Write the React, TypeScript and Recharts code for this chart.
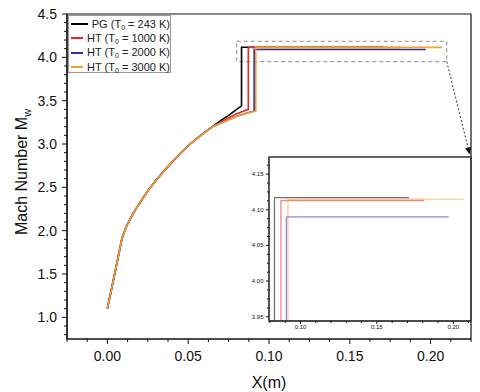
import { Line, LineChart, ReferenceArea, ReferenceLine, XAxis, YAxis } from "recharts";

const FONT = "'Liberation Sans', Arial, sans-serif";

// shared rise, all four cases sit on top of each other here
const riseX = [0, 0.0045, 0.009, 0.012, 0.016, 0.02, 0.025, 0.03, 0.035, 0.04, 0.045, 0.05, 0.055, 0.06, 0.065];
const riseM = [1.1, 1.5, 1.91, 2.06, 2.2, 2.32, 2.46, 2.58, 2.69, 2.79, 2.89, 2.98, 3.06, 3.13, 3.2];

// tails: end of the curve, jump, plateau
const pgX = [0.07, 0.075, 0.08, 0.083, 0.083, 0.171];
const pgM = [3.27, 3.33, 3.4, 3.44, 4.117, 4.117];
const ht1000X = [0.07, 0.075, 0.08, 0.0872, 0.0872, 0.181];
const ht1000M = [3.25, 3.3, 3.35, 3.4, 4.113, 4.113];
const ht2000X = [0.07, 0.075, 0.08, 0.085, 0.0908, 0.0908, 0.197];
const ht2000M = [3.24, 3.28, 3.32, 3.35, 3.38, 4.09, 4.09];
const ht3000X = [0.07, 0.075, 0.08, 0.085, 0.0918, 0.0918, 0.207];
const ht3000M = [3.24, 3.28, 3.32, 3.35, 3.38, 4.115, 4.115];

const seriesNames = ["PG", "HT", "HT", "HT"];
const seriesT0 = ["243", "1000", "2000", "3000"];
const seriesColors = ["#000000", "#e3262b", "#2b30b0", "#f5a02a"];

// axes
const xDomain = [-0.025, 0.225];
const yDomain = [0.75, 4.5];
const xMajor = [0, 0.05, 0.1, 0.15, 0.2];
const yMajor = [1, 1.5, 2, 2.5, 3, 3.5, 4, 4.5];
const insetXDomain = [0.0794, 0.2116];
const insetYDomain = [3.944, 4.174];
const insetXMajor = [0.1, 0.15, 0.2];
const insetYMajor = [3.95, 4, 4.05, 4.1, 4.15];

// zoom box shown in the inset
const zoomX = [0.08, 0.21];
const zoomM = [3.95, 4.185];

const toPoints = (xs: number[], ms: number[]) => xs.map((x, i) => ({ x, m: ms[i] }));
const withRise = (xs: number[], ms: number[]) => toPoints([...riseX, ...xs], [...riseM, ...ms]);

const series = [
  withRise(pgX, pgM),
  withRise(ht1000X, ht1000M),
  withRise(ht2000X, ht2000M),
  withRise(ht3000X, ht3000M),
];

function steps(from: number, to: number, step: number) {
  const out: number[] = [];
  for (let v = from; v <= to + 1e-9; v += step) out.push(+v.toFixed(5));
  return out;
}

const isMajor = (v: number, majors: number[]) => majors.some((m) => Math.abs(m - v) < 1e-6);

function bottomTick(majors: number[], digits: number, fs: number, len: number, minor: number, base: number) {
  return (p: any) => {
    const v = p.payload.value;
    const major = isMajor(v, majors);
    return (
      <g>
        <line x1={p.x} x2={p.x} y1={p.y} y2={p.y + (major ? len : minor)} stroke="#111" />
        {major && (
          <text x={p.x} y={p.y + base} textAnchor="middle" fontSize={fs} fontFamily={FONT} fill="#111">
            {v.toFixed(digits)}
          </text>
        )}
      </g>
    );
  };
}

function leftTick(majors: number[], digits: number, fs: number, len: number, minor: number, gap: number, dy: number) {
  return (p: any) => {
    const v = p.payload.value;
    const major = isMajor(v, majors);
    return (
      <g>
        <line x1={p.x} x2={p.x - (major ? len : minor)} y1={p.y} y2={p.y} stroke="#111" />
        {major && (
          <text x={p.x - gap} y={p.y + dy} textAnchor="end" fontSize={fs} fontFamily={FONT} fill="#111">
            {v.toFixed(digits)}
          </text>
        )}
      </g>
    );
  };
}

function Arrow(p: any) {
  const { x1, y1, x2, y2 } = p;
  const a = Math.atan2(y2 - y1, x2 - x1);
  const s = 7;
  const pts = [
    [x2, y2],
    [x2 - s * Math.cos(a) + 3 * Math.sin(a), y2 - s * Math.sin(a) - 3 * Math.cos(a)],
    [x2 - s * Math.cos(a) - 3 * Math.sin(a), y2 - s * Math.sin(a) + 3 * Math.cos(a)],
  ];
  return (
    <g>
      <line x1={x1} y1={y1} x2={x2} y2={y2} stroke="#333" strokeDasharray="2 2" />
      <polygon points={pts.map((q) => q.join(",")).join(" ")} fill="#111" />
    </g>
  );
}

function Legend() {
  return (
    <div
      style={{
        position: "absolute",
        left: 68,
        top: 15,
        width: 103,
        height: 58,
        border: "1px solid #999",
        background: "#fff",
        fontFamily: FONT,
        fontSize: 11,
        color: "#222",
        boxSizing: "border-box",
        paddingTop: 1,
      }}
    >
      {seriesNames.map((n, i) => (
        <div key={i} style={{ display: "flex", alignItems: "center", height: 14.3 }}>
          <span style={{ display: "inline-block", width: 22, height: 2, background: seriesColors[i], marginLeft: 2, marginRight: 4 }} />
          <span style={{ whiteSpace: "nowrap" }}>
            {n} (T<sub style={{ fontSize: 7, verticalAlign: -2 }}>0</sub> = {seriesT0[i]} K)
          </span>
        </div>
      ))}
    </div>
  );
}

export default function App() {
  return (
    <div style={{ position: "absolute", left: 0, top: 0, width: 480, height: 392, background: "#fff" }}>
      <LineChart width={480} height={392} margin={{ top: 14, right: 9, bottom: 23, left: 0 }}>
        <XAxis
          type="number"
          dataKey="x"
          domain={xDomain}
          ticks={steps(-0.025, 0.225, 0.0125)}
          interval={0}
          height={30}
          tickSize={0}
          tickMargin={0}
          tickLine={false}
          axisLine={{ stroke: "#111", strokeWidth: 1.2 }}
          tick={bottomTick(xMajor, 2, 14, 5, 3, 22)}
          label={{
            content: (p: any) => (
              <text x={p.viewBox.x + p.viewBox.width / 2} y={388} textAnchor="middle" fontSize={16} fontFamily={FONT} fill="#111">
                X(m)
              </text>
            ),
          }}
        />
        <YAxis
          type="number"
          dataKey="m"
          domain={yDomain}
          ticks={steps(0.8, 4.5, 0.1)}
          interval={0}
          width={67}
          tickSize={0}
          tickMargin={0}
          tickLine={false}
          axisLine={{ stroke: "#111", strokeWidth: 1.2 }}
          tick={leftTick(yMajor, 1, 14, 5, 3, 10, 5)}
          label={{
            content: () => (
              <text x={27} y={172} transform="rotate(-90 27 172)" textAnchor="middle" fontSize={16} fontFamily={FONT} fill="#111">
                Mach Number M
                <tspan fontSize={11} dy={4}>
                  w
                </tspan>
              </text>
            ),
          }}
        />
        {/* plot frame */}
        <ReferenceArea x1={xDomain[0]} x2={xDomain[1]} y1={yDomain[0]} y2={yDomain[1]} fill="none" stroke="#111" strokeWidth={1.2} ifOverflow="visible" />
        <ReferenceArea x1={zoomX[0]} x2={zoomX[1]} y1={zoomM[0]} y2={zoomM[1]} fill="none" stroke="#8a8a8a" strokeDasharray="4 3" />
        <ReferenceLine
          segment={[
            { x: zoomX[1], y: zoomM[0] },
            { x: 0.2242, y: 2.88 },
          ]}
          ifOverflow="visible"
          shape={Arrow}
        />
        {series.map((d, i) => (
          <Line
            key={i}
            data={d}
            dataKey="m"
            type="linear"
            stroke={seriesColors[i]}
            strokeWidth={1.6}
            dot={false}
            isAnimationActive={false}
          />
        ))}
      </LineChart>

      <Legend />

      <div style={{ position: "absolute", left: 240, top: 150 }}>
        <LineChart width={240} height={190} margin={{ top: 7, right: 9, bottom: 0, left: 0 }}>
          <XAxis
            type="number"
            dataKey="x"
            domain={insetXDomain}
            allowDataOverflow
            ticks={steps(0.08, 0.21, 0.01)}
            interval={0}
            height={19}
            tickSize={0}
            tickMargin={0}
            tickLine={false}
            axisLine={{ stroke: "#333" }}
            tick={bottomTick(insetXMajor, 2, 6, 3, 2, 8)}
          />
          <YAxis
            type="number"
            dataKey="m"
            domain={insetYDomain}
            allowDataOverflow
            ticks={steps(3.95, 4.1625, 0.0125)}
            interval={0}
            width={29}
            tickSize={0}
            tickMargin={0}
            tickLine={false}
            axisLine={{ stroke: "#333" }}
            tick={leftTick(insetYMajor, 2, 6, 3, 2, 5.5, 2)}
          />
          <ReferenceArea
            x1={insetXDomain[0]}
            x2={insetXDomain[1]}
            y1={insetYDomain[0]}
            y2={insetYDomain[1]}
            fill="none"
            stroke="#333"
            strokeWidth={1.3}
            ifOverflow="visible"
          />
          {series.map((d, i) => (
            <Line
              key={i}
              data={d}
              dataKey="m"
              type="linear"
              stroke={seriesColors[i]}
              strokeOpacity={0.55}
              strokeWidth={1.3}
              dot={false}
              isAnimationActive={false}
            />
          ))}
        </LineChart>
      </div>
    </div>
  );
}
